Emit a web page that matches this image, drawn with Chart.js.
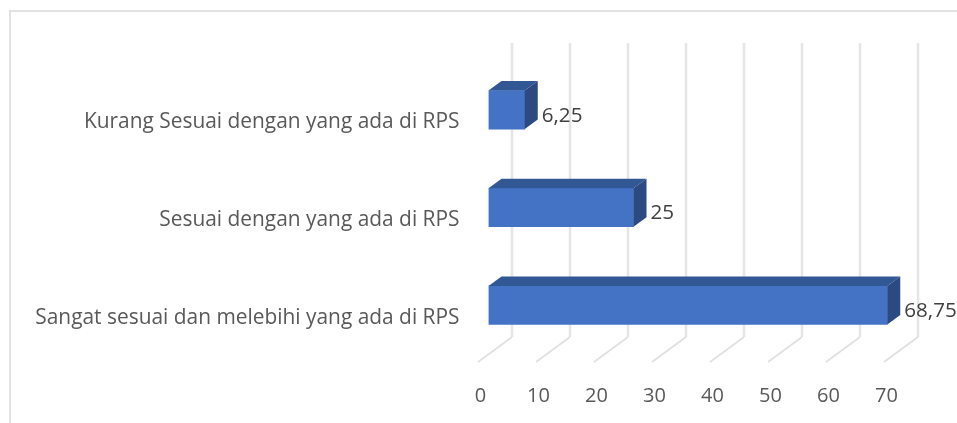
<!DOCTYPE html>
<html><head><meta charset="utf-8">
<style>html,body{margin:0;padding:0;background:#fff}canvas{display:block}</style>
<script src="https://cdn.jsdelivr.net/npm/chart.js@4"></script></head>
<body><canvas id="c" width="957" height="423"></canvas>
<script>
const categories = ["Kurang Sesuai dengan yang ada di RPS","Sesuai dengan yang ada di RPS","Sangat sesuai dan melebihi yang ada di RPS"];
const seriesValues = [6.25,25,68.75];
const valueLabels = ["6,25","25","68,75"];
const FONT = '"Open Sans"';
const depthX = 13, depthY = 9.5;

const frame3d = {
  id:'frame3d',
  beforeDraw(chart){
    const c = chart.ctx, x = chart.scales.x, a = chart.chartArea;
    c.save();
    c.fillStyle='#fff'; c.fillRect(0,0,chart.width,chart.height);
    c.strokeStyle='#e2e2e2'; c.lineWidth=2;
    c.beginPath(); c.moveTo(10,423); c.lineTo(10,11); c.lineTo(957,11); c.stroke();
    x.ticks.forEach(t=>{
      const p = x.getPixelForValue(t.value);
      c.strokeStyle='#e6e6e6'; c.lineWidth=2.6;
      c.beginPath(); c.moveTo(p+23.5,a.top-18); c.lineTo(p+23.5,a.bottom-17); c.stroke();
      c.strokeStyle='#e0e0e0'; c.lineWidth=1.6;
      c.beginPath(); c.moveTo(p+23.5,a.bottom-17); c.lineTo(p-10.5,a.bottom+8); c.stroke();
    });
    c.restore();
  },
  afterDatasetsDraw(chart){
    const c = chart.ctx;
    c.save();
    chart.getDatasetMeta(0).data.forEach((b,i)=>{
      const t=b.y-b.height/2, e=b.y+b.height/2, l=b.base, r=b.x;
      c.fillStyle='#325795';
      c.beginPath(); c.moveTo(l,t); c.lineTo(l+depthX,t-depthY); c.lineTo(r+depthX,t-depthY); c.lineTo(r,t); c.closePath(); c.fill();
      c.fillStyle='#2b4a82';
      c.beginPath(); c.moveTo(r,t); c.lineTo(r+depthX,t-depthY); c.lineTo(r+depthX,e-depthY); c.lineTo(r,e); c.closePath(); c.fill();
      c.fillStyle='#404040'; c.font='20.6px '+FONT; c.textAlign='left'; c.textBaseline='middle';
      c.fillText(valueLabels[i], r+17, b.y+6);
    });
    c.restore();
  }
};

new Chart(document.getElementById('c'),{
  type:'bar',
  data:{labels:categories,datasets:[{data:seriesValues,backgroundColor:'#4472c4',barThickness:38.5,borderWidth:0}]},
  options:{
    indexAxis:'y',responsive:false,animation:false,devicePixelRatio:1,
    layout:{padding:{left:0,right:62.5,top:61,bottom:0}},
    plugins:{legend:{display:false},tooltip:{enabled:false},title:{display:false}},
    scales:{
      x:{min:0,max:70,grid:{display:false},border:{display:false},
        afterFit(s){s.height=69;},
        ticks:{stepSize:10,maxRotation:0,autoSkip:false,color:'#595959',font:{family:FONT,size:20},labelOffset:-8,padding:22}},
      y:{grid:{display:false},border:{display:false},
        afterFit(s){s.width=488.5;},
        ticks:{color:'#595959',font:{family:FONT,size:20.9},labelOffset:12.5,padding:21,autoSkip:false}}
    }
  },
  plugins:[frame3d]
});
</script></body></html>
